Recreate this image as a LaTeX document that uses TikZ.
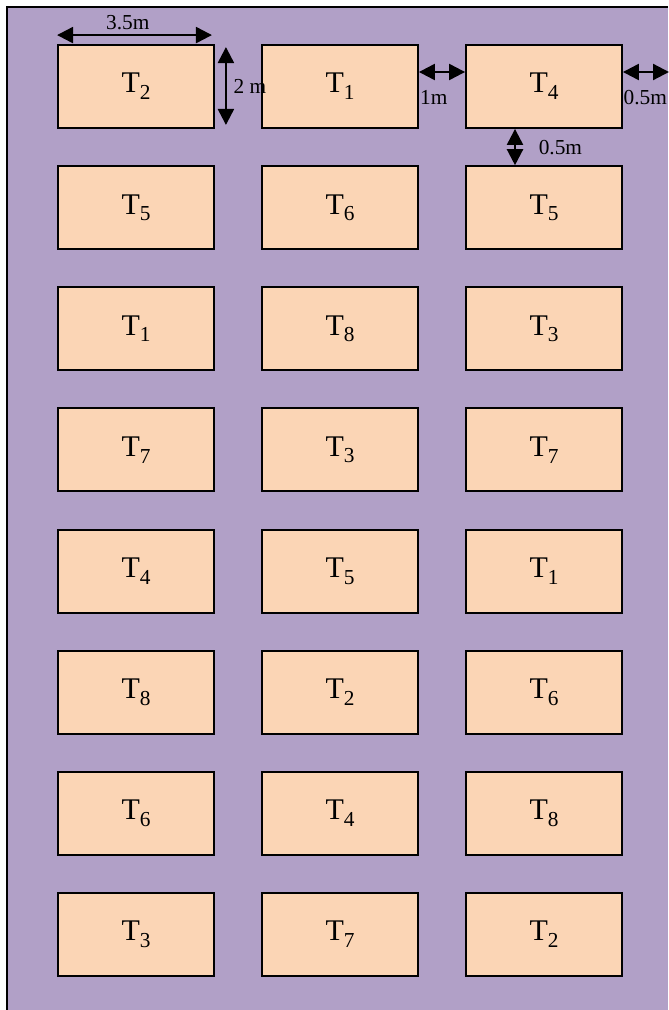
\documentclass[tikz,border=0pt]{standalone}
\usepackage{fontspec}
\setmainfont{Liberation Serif}
\usetikzlibrary{arrows.meta,calc}
\definecolor{bgpurple}{HTML}{B1A0C7}
\definecolor{peach}{HTML}{FBD5B5}
\newcommand{\Tlab}[1]{T\raisebox{-5pt}{\fontsize{16}{16}\selectfont #1}}
\begin{document}
\begin{tikzpicture}[x=0.75pt,y=-0.75pt,
  plotbox/.style={draw=black,fill=peach,line width=1.4pt,minimum width=117pt,
    minimum height=62.25pt,inner sep=0pt,font=\fontsize{22.5}{22.5}\selectfont},
  dimarrow/.style={{Triangle[length=12pt,width=12pt]}-{Triangle[length=12pt,width=12pt]},line width=1.7pt},
  dimlab/.style={font=\fontsize{16}{16}\selectfont,inner sep=0pt}]
\useasboundingbox (0,0) rectangle (668,1010);
\fill[bgpurple] (7,7) rectangle (668,1010);
\draw[line width=1.6pt] (7,1010) -- (7,7) -- (668,7);
\foreach \a/\b/\c [count=\i from 0] in {2/1/4,5/6/5,1/8/3,7/3/7,4/5/1,8/2/6,6/4/8,3/7/2}{
  \node[plotbox] (b\i1) at (136,86.5+121.14*\i) {\Tlab{\a}};
  \node[plotbox] (b\i2) at (340,86.5+121.14*\i) {\Tlab{\b}};
  \node[plotbox] (b\i3) at (544,86.5+121.14*\i) {\Tlab{\c}};
}
\coordinate (redge) at (669,72);
% 3.5m
\draw[dimarrow] ($(b01.north west)+(0,-9)$) -- ($(b01.north east)+(-3,-9)$)
  node[dimlab,midway,above=3pt,xshift=-5pt] {3.5m};
% 2 m
\draw[dimarrow] ($(b01.north east)+(11,3)$) -- ($(b01.south east)+(11,-4)$)
  node[dimlab,midway,right=5pt] {2 m};
% 1m
\draw[dimarrow] ($(b02.east)+(0,-14.5)$) -- ($(b03.west)+(0,-14.5)$);
\node[dimlab,anchor=north west] (l1m) at ($(b02.east)+(1,3.5)$) {1m};
% 0.5m right
\draw[dimarrow] ($(b03.east)+(0,-14.5)$) -- (redge);
\node[dimlab,anchor=north west] (l05r) at ($(b03.east)+(0.5,3.5)$) {0.5m};
% 0.5m vertical
\draw[dimarrow] ($(b03.south)+(-29,0)$) -- ($(b13.north)+(-29,0)$)
  node[dimlab,midway,right=17pt] {0.5m};
\end{tikzpicture}
\end{document}
